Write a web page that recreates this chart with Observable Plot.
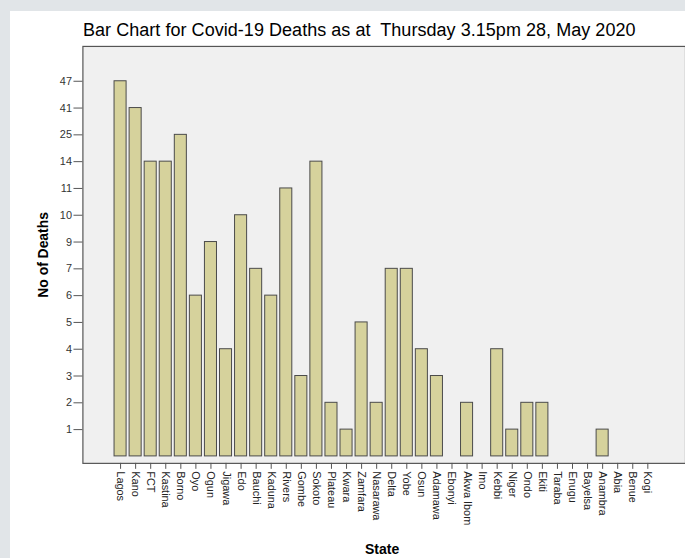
<!DOCTYPE html>
<html>
<head>
<meta charset="utf-8">
<script src="https://cdn.jsdelivr.net/npm/d3@7"></script>
<script src="https://cdn.jsdelivr.net/npm/@observablehq/plot@0.6"></script>
<style>
  html, body { margin: 0; padding: 0; width: 685px; height: 558px; overflow: hidden; background: #e1e5e8; }
  #panel { position: absolute; left: 10px; top: 11px; width: 700px; height: 560px; background: #ffffff; }
  #title { position: absolute; left: 83px; top: 20px; font-family: "Liberation Sans", Arial, sans-serif; font-size: 18px; letter-spacing: 0.04px; color: #000; white-space: pre; }
  #chart { position: absolute; left: 0; top: 36px; }
  #xlabel { position: absolute; left: 365px; top: 541px; font-family: "Liberation Sans", Arial, sans-serif; font-size: 14px; font-weight: bold; color: #000; }
</style>
</head>
<body>
<div id="panel"></div>
<div id="title">Bar Chart for Covid-19 Deaths as at  Thursday 3.15pm 28, May 2020</div>
<div id="chart"></div>
<div id="xlabel">State</div>
<script>
const states = ["Lagos","Kano","FCT","Kastina","Borno","Oyo","Ogun","Jigawa","Edo","Bauchi","Kaduna","Rivers","Gombe","Sokoto","Plateau","Kwara","Zamfara","Nasarawa","Delta","Yobe","Osun","Adamawa","Ebonyi","Akwa Ibom","Imo","Kebbi","Niger","Ondo","Ekiti","Taraba","Enugu","Bayelsa","Anambra","Abia","Benue","Kogi"];
const deaths = [47,41,14,14,25,6,9,4,10,7,6,11,3,14,2,1,5,2,7,7,4,3,0,2,0,4,1,2,2,0,0,0,1,0,0,0];
const yTickLabels = [1,2,3,4,5,6,7,9,10,11,14,25,41,47];

const rankOf = v => yTickLabels.indexOf(v) + 1;
const data = states.map((s, i) => ({state: s, deaths: deaths[i], rank: rankOf(deaths[i])}));

const chart = Plot.plot({
  width: 690,
  height: 505,
  marginTop: 10,
  marginBottom: 75,
  marginLeft: 83,
  marginRight: 0,
  style: {fontFamily: "'Liberation Sans', Arial, sans-serif", fontSize: "11px", color: "#333", background: "transparent"},
  x: {domain: states, paddingInner: 0.2, paddingOuter: 2.1, round: false, label: null},
  y: {domain: [-0.26, 15.3], label: null},
  marks: [
    Plot.frame({fill: "#f0f0f0", stroke: "#555", strokeWidth: 1.2}),
    Plot.barY(data.filter(d => d.deaths > 0), {x: "state", y1: 0, y2: "rank", fill: "#d6d29c", stroke: "#4a4a4a", strokeWidth: 1, inset: 0}),
    Plot.axisY({ticks: d3.range(1, yTickLabels.length + 1), tickFormat: d => yTickLabels[d - 1], tickSize: 9, tickPadding: 2, stroke: "#555", fill: "#333", label: null}),
    Plot.axisX({tickRotate: 90, tickSize: 6, tickPadding: 2, stroke: "#555", fill: "#222", label: null}),
    Plot.axisY({ticks: [], label: "No of Deaths", labelArrow: "none", labelAnchor: "center", labelOffset: 45, fontSize: 14, fontWeight: "bold", fill: "#000", tickSize: 0})
  ]
});
document.getElementById("chart").appendChild(chart);
</script>
</body>
</html>
